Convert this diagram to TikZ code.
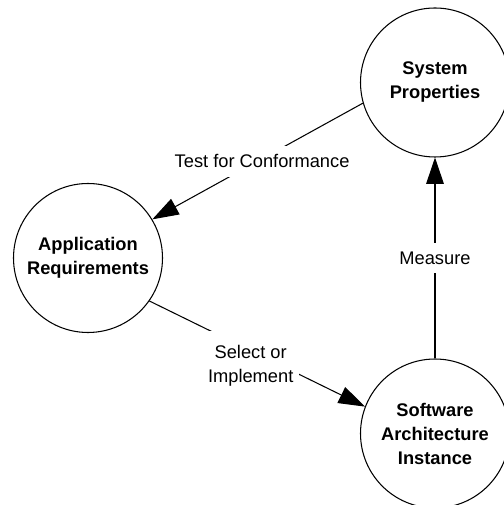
\documentclass[tikz,border=0pt]{standalone}
\usepackage{fontspec}
\setmainfont{Liberation Sans}
\usetikzlibrary{arrows.meta}
\begin{document}
\begin{tikzpicture}[>={Triangle[length=15pt,width=10pt]},
  bubble/.style={circle, draw, line width=0.6pt, minimum size=2.98cm, inner sep=0pt, align=center,
    font=\fontsize{10.4}{13.65}\selectfont\bfseries},
  edgelabel/.style={fill=white, align=center, inner sep=5pt,
    font=\fontsize{10.4}{13.65}\selectfont}]
\useasboundingbox (0,0) rectangle (10.06,10.1);
\node[bubble] (sysprop) at (8.70,8.45) {System\\Properties};
\node[bubble] (appreq) at (1.76,4.94) {Application\\Requirements};
\node[bubble] (swarch) at (8.70,1.43) {Software\\Architecture\\Instance};
\draw[line width=0.6pt][->] (sysprop.196) -- node[edgelabel, xshift=0.09cm] (testlbl) {Test for Conformance} (appreq.31);
\draw[line width=0.6pt][->] (appreq.325) -- node[edgelabel, inner xsep=3pt, inner ysep=8pt, xshift=-0.13cm, yshift=-0.23cm] (selectlbl) {Select or\\Implement} (swarch.159);
\draw[line width=0.6pt][->] (swarch.90) -- node[edgelabel] (measurelbl) {Measure} (sysprop.270);
\end{tikzpicture}
\end{document}
